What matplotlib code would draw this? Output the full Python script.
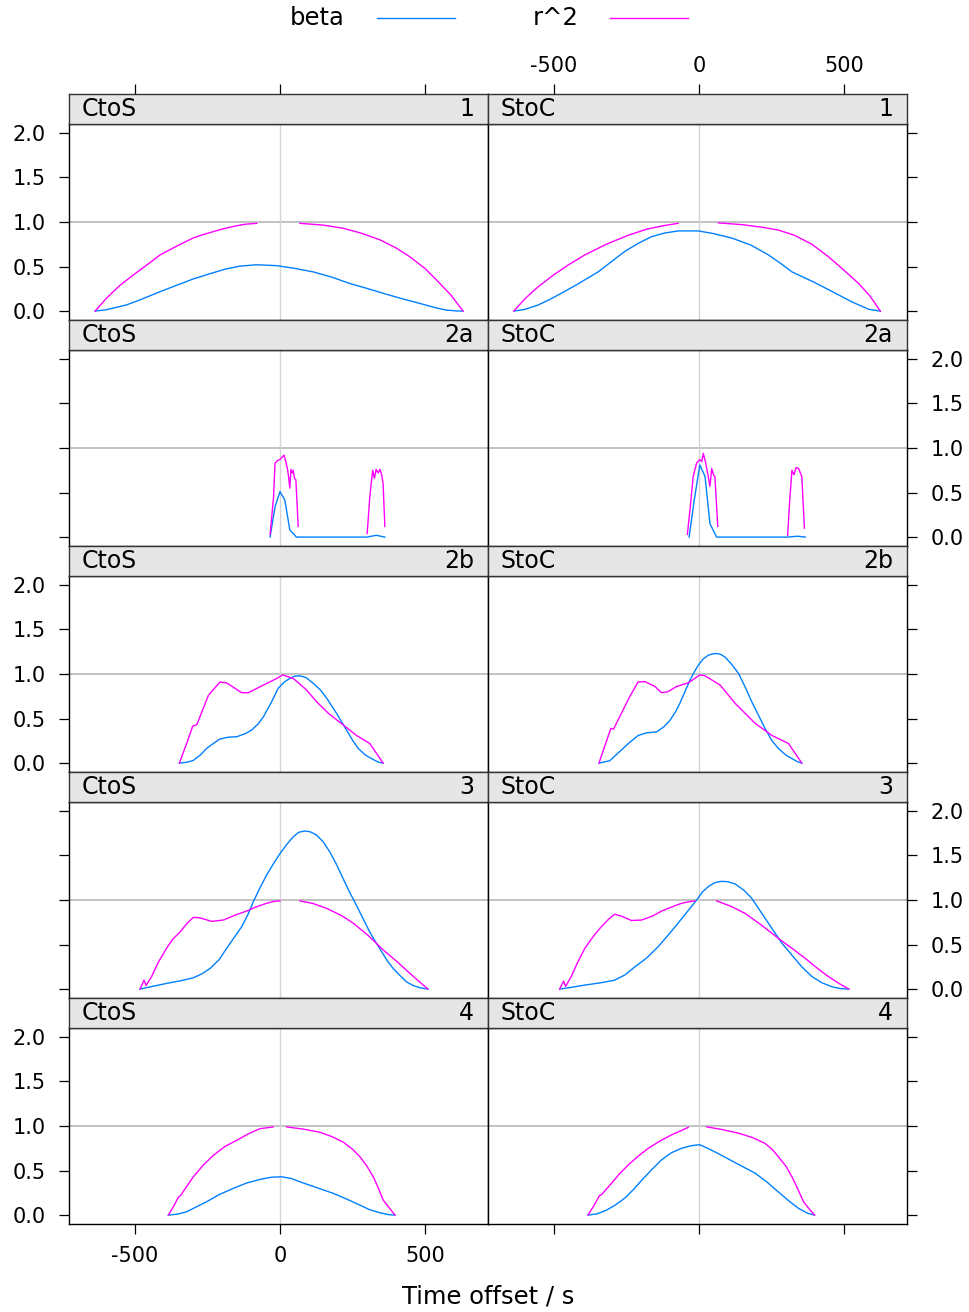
import numpy as np
import matplotlib
matplotlib.use("Agg")
import matplotlib.pyplot as plt
from matplotlib.lines import Line2D

nan = np.nan

# ---------------- data ----------------
directions = ["CtoS", "StoC"]
groups = ["1", "2a", "2b", "3", "4"]
series_names = ["beta", "r^2"]
series_colors = ["#0080ff", "#ff00ff"]
x_ticks = [-500, 0, 500]
y_ticks = [0.0, 0.5, 1.0, 1.5, 2.0]
y_tick_labels = ["0.0", "0.5", "1.0", "1.5", "2.0"]

# group 1
ctos_1_beta_x = [-638, -600, -560, -529, -480, -420, -356, -300, -241, -190, -138, -80, -11, 50, 115, 180, 241,
                 300, 356, 420, 483, 540, 575, 610, 632]
ctos_1_beta_y = [0, 0.015, 0.045, 0.07, 0.13, 0.21, 0.29, 0.36, 0.42, 0.47, 0.505, 0.52, 0.51, 0.48, 0.44, 0.38,
                 0.31, 0.255, 0.20, 0.14, 0.086, 0.035, 0.011, 0.002, 0]
ctos_1_r2_x = [-638, -600, -552, -500, -450, -414, -350, -300, -264, -200, -161, -120, -80,
               nan, 69, 150, 218, 280, 345, 400, 448, 500, 540, 590, 632]
ctos_1_r2_y = [0, 0.14, 0.29, 0.42, 0.54, 0.63, 0.74, 0.82, 0.86, 0.92, 0.95, 0.975, 0.985,
               nan, 0.985, 0.965, 0.93, 0.875, 0.80, 0.71, 0.61, 0.48, 0.35, 0.18, 0]
stoc_1_beta_x = [-639, -600, -556, -515, -475, -420, -348, -300, -256, -210, -164, -120, -72, -2, 50, 113, 180,
                 240, 280, 321, 400, 471, 530, 586, 626]
stoc_1_beta_y = [0, 0.02, 0.067, 0.13, 0.20, 0.30, 0.44, 0.56, 0.67, 0.76, 0.835, 0.875, 0.90, 0.90, 0.87, 0.82,
                 0.74, 0.63, 0.54, 0.44, 0.32, 0.20, 0.10, 0.02, 0]
stoc_1_r2_x = [-639, -600, -556, -500, -450, -394, -320, -245, -180, -120, -72,
               nan, 67, 150, 220, 274, 330, 390, 447, 500, 551, 590, 626]
stoc_1_r2_y = [0, 0.14, 0.27, 0.41, 0.52, 0.63, 0.75, 0.85, 0.92, 0.96, 0.985,
               nan, 0.99, 0.97, 0.94, 0.91, 0.85, 0.75, 0.61, 0.46, 0.31, 0.17, 0]

# group 2a
ctos_2a_beta_x = [-34, -17, 0, 17, 34, 57, 299, 333, 362]
ctos_2a_beta_y = [0, 0.34, 0.51, 0.415, 0.08, 0, 0, 0.02, 0]
ctos_2a_r2_x = [-34, -22, -17, -8, 0, 8, 14, 20, 25, 29, 34, 38, 42, 46, 50, 55, 63,
                nan, 301, 310, 320, 326, 332, 339, 345, 351, 356, 362]
ctos_2a_r2_y = [0.03, 0.45, 0.83, 0.86, 0.87, 0.90, 0.92, 0.85, 0.78, 0.70, 0.55, 0.76, 0.72, 0.75, 0.66, 0.64, 0.12,
                nan, 0.04, 0.45, 0.75, 0.66, 0.76, 0.72, 0.76, 0.70, 0.60, 0.12]
stoc_2a_beta_x = [-34, -17, 3, 21, 38, 61, 306, 340, 367]
stoc_2a_beta_y = [0, 0.40, 0.81, 0.68, 0.15, 0, 0, 0.01, 0]
stoc_2a_r2_x = [-40, -28, -20, -8, 3, 10, 15, 22, 28, 32, 38, 44, 50, 55, 65,
                nan, 306, 314, 321, 328, 335, 344, 350, 355, 364]
stoc_2a_r2_y = [0.03, 0.40, 0.68, 0.83, 0.87, 0.85, 0.94, 0.85, 0.75, 0.68, 0.57, 0.77, 0.70, 0.68, 0.12,
                nan, 0.02, 0.45, 0.75, 0.70, 0.78, 0.77, 0.72, 0.68, 0.10]

# group 2b
ctos_2b_beta_x = [-347, -320, -299, -275, -253, -230, -207, -180, -149, -120, -98, -75, -57, -30, -6, 15, 34, 50,
                  69, 90, 115, 140, 161, 195, 230, 250, 270, 295, 322, 340, 356]
ctos_2b_beta_y = [0, 0.01, 0.03, 0.09, 0.165, 0.22, 0.27, 0.29, 0.296, 0.33, 0.37, 0.44, 0.52, 0.68, 0.84, 0.91,
                  0.95, 0.975, 0.98, 0.96, 0.895, 0.82, 0.73, 0.56, 0.37, 0.26, 0.165, 0.09, 0.04, 0.01, 0]
ctos_2b_r2_x = [-347, -322, -301, -287, -247, -207, -184, -132, -109, -57, -11, 9, 46, 92, 126, 170, 218, 264,
                310, 356]
ctos_2b_r2_y = [0, 0.22, 0.415, 0.43, 0.76, 0.91, 0.90, 0.79, 0.79, 0.876, 0.95, 0.99, 0.95, 0.82, 0.69, 0.55,
                0.43, 0.31, 0.22, 0]
stoc_2b_beta_x = [-345, -308, -290, -268, -240, -210, -180, -146, -120, -100, -80, -66, -50, -31, -15, -2, 15, 32,
                  45, 61, 75, 90, 110, 136, 160, 182, 205, 228, 250, 274, 300, 321, 340, 355]
stoc_2b_beta_y = [0, 0.026, 0.08, 0.146, 0.23, 0.31, 0.34, 0.35, 0.41, 0.48, 0.58, 0.67, 0.79, 0.93, 1.03, 1.10,
                  1.17, 1.21, 1.225, 1.23, 1.22, 1.19, 1.12, 1.01, 0.85, 0.69, 0.54, 0.39, 0.26, 0.165, 0.09,
                  0.05, 0.015, 0]
stoc_2b_r2_x = [-345, -304, -295, -239, -210, -187, -152, -129, -108, -77, -37, 3, 21, 73, 125, 194, 252, 309, 355]
stoc_2b_r2_y = [0, 0.39, 0.38, 0.745, 0.91, 0.915, 0.86, 0.79, 0.80, 0.86, 0.90, 0.99, 0.98, 0.876, 0.67, 0.446,
                0.31, 0.22, 0]

# group 3
ctos_3_beta_x = [-483, -440, -391, -340, -299, -270, -241, -210, -184, -160, -132, -110, -92, -70, -46, -20, 0,
                 25, 46, 65, 86, 105, 126, 150, 172, 195, 218, 240, 264, 287, 310, 330, 351, 370, 391, 415, 437,
                 460, 483, 511]
ctos_3_beta_y = [0, 0.03, 0.064, 0.095, 0.127, 0.17, 0.232, 0.33, 0.457, 0.57, 0.70, 0.84, 0.98, 1.13, 1.28,
                 1.42, 1.52, 1.63, 1.71, 1.76, 1.775, 1.765, 1.73, 1.65, 1.54, 1.40, 1.24, 1.09, 0.94, 0.79,
                 0.64, 0.53, 0.42, 0.32, 0.23, 0.15, 0.08, 0.04, 0.015, 0]
ctos_3_r2_x = [-483, -469, -462, -443, -420, -391, -370, -345, -320, -299, -276, -236, -195, -155, -115, -80, -46,
               -20, 0, nan, 69, 115, 161, 210, 253, 305, 356, 400, 437, 475, 511]
ctos_3_r2_y = [0, 0.10, 0.04, 0.14, 0.30, 0.46, 0.56, 0.64, 0.74, 0.805, 0.80, 0.76, 0.775, 0.83, 0.876, 0.925,
               0.963, 0.985, 0.99, nan, 0.99, 0.96, 0.906, 0.83, 0.74, 0.60, 0.44, 0.32, 0.21, 0.10, 0]
stoc_3_beta_x = [-481, -440, -394, -340, -291, -255, -221, -180, -141, -105, -72, -40, -8, 12, 32, 55, 78, 100,
                 125, 155, 182, 215, 252, 285, 321, 355, 390, 425, 459, 490, 517]
stoc_3_beta_y = [0, 0.02, 0.045, 0.07, 0.10, 0.16, 0.25, 0.35, 0.475, 0.61, 0.74, 0.87, 1.0, 1.09, 1.15, 1.195,
                 1.21, 1.205, 1.18, 1.11, 1.02, 0.86, 0.68, 0.52, 0.38, 0.25, 0.14, 0.07, 0.026, 0.005, 0]
stoc_3_r2_x = [-481, -467, -460, -441, -420, -394, -365, -337, -310, -291, -268, -233, -198, -160, -129, -95, -60,
               -35, -14, nan, 61, 110, 159, 215, 274, 320, 367, 410, 447, 485, 517]
stoc_3_r2_y = [0, 0.09, 0.03, 0.14, 0.29, 0.457, 0.59, 0.70, 0.79, 0.84, 0.82, 0.77, 0.775, 0.82, 0.876, 0.92,
               0.963, 0.98, 0.99, nan, 0.99, 0.93, 0.85, 0.72, 0.57, 0.46, 0.345, 0.23, 0.14, 0.06, 0]

# group 4
ctos_4_beta_x = [-385, -355, -322, -290, -253, -210, -161, -115, -69, -30, 6, 40, 69, 125, 184, 230, 276, 310,
                 345, 375, 397]
ctos_4_beta_y = [0, 0.01, 0.037, 0.09, 0.15, 0.23, 0.30, 0.36, 0.40, 0.425, 0.43, 0.41, 0.374, 0.31, 0.244,
                 0.18, 0.112, 0.06, 0.026, 0.005, 0]
ctos_4_r2_x = [-385, -365, -351, -343, -320, -299, -265, -230, -190, -149, -110, -69, -23,
               nan, 23, 80, 138, 180, 218, 250, 276, 300, 322, 340, 356, 375, 397]
ctos_4_r2_y = [0, 0.11, 0.20, 0.22, 0.33, 0.43, 0.56, 0.67, 0.77, 0.84, 0.91, 0.97, 0.99,
               nan, 0.99, 0.965, 0.93, 0.88, 0.82, 0.74, 0.655, 0.55, 0.43, 0.30, 0.17, 0.09, 0]
stoc_4_beta_x = [-383, -350, -319, -290, -256, -225, -198, -160, -129, -95, -60, -25, 3, 30, 67, 130, 194, 235,
                 274, 310, 344, 375, 399]
stoc_4_beta_y = [0, 0.015, 0.056, 0.11, 0.19, 0.29, 0.39, 0.52, 0.62, 0.70, 0.75, 0.78, 0.79, 0.75, 0.69, 0.58,
                 0.47, 0.37, 0.26, 0.16, 0.075, 0.02, 0]
stoc_4_r2_x = [-383, -360, -343, -336, -320, -302, -275, -245, -210, -175, -135, -95, -60, -37,
               nan, 27, 80, 136, 185, 228, 255, 274, 300, 321, 340, 361, 380, 399]
stoc_4_r2_y = [0, 0.12, 0.22, 0.23, 0.29, 0.356, 0.46, 0.56, 0.66, 0.75, 0.83, 0.90, 0.95, 0.985,
               nan, 0.99, 0.96, 0.92, 0.87, 0.805, 0.73, 0.655, 0.55, 0.43, 0.30, 0.15, 0.07, 0]

panels = {
    ("CtoS", "1"): [(ctos_1_beta_x, ctos_1_beta_y), (ctos_1_r2_x, ctos_1_r2_y)],
    ("StoC", "1"): [(stoc_1_beta_x, stoc_1_beta_y), (stoc_1_r2_x, stoc_1_r2_y)],
    ("CtoS", "2a"): [(ctos_2a_beta_x, ctos_2a_beta_y), (ctos_2a_r2_x, ctos_2a_r2_y)],
    ("StoC", "2a"): [(stoc_2a_beta_x, stoc_2a_beta_y), (stoc_2a_r2_x, stoc_2a_r2_y)],
    ("CtoS", "2b"): [(ctos_2b_beta_x, ctos_2b_beta_y), (ctos_2b_r2_x, ctos_2b_r2_y)],
    ("StoC", "2b"): [(stoc_2b_beta_x, stoc_2b_beta_y), (stoc_2b_r2_x, stoc_2b_r2_y)],
    ("CtoS", "3"): [(ctos_3_beta_x, ctos_3_beta_y), (ctos_3_r2_x, ctos_3_r2_y)],
    ("StoC", "3"): [(stoc_3_beta_x, stoc_3_beta_y), (stoc_3_r2_x, stoc_3_r2_y)],
    ("CtoS", "4"): [(ctos_4_beta_x, ctos_4_beta_y), (ctos_4_r2_x, ctos_4_r2_y)],
    ("StoC", "4"): [(stoc_4_beta_x, stoc_4_beta_y), (stoc_4_r2_x, stoc_4_r2_y)],
}

# ---------------- layout ----------------
plt.rcParams["font.family"] = ["DejaVu Sans"]
W, H = 969, 1312
fig = plt.figure(figsize=(W / 100, H / 100), dpi=100)
fig.patch.set_facecolor("white")


def fx(px):
    return px / W


def fy(py):
    return 1 - py / H


XLIM = (-728, 718)
YLIM = (-0.1, 2.1)
col_left = [69, 488]
col_w = 419
strip_h = 30
panel_h = 196
row_step = 226
top0 = 94

tick_kw = dict(direction="out", length=7, width=0.9, labelsize=15, colors="black")

for r, grp in enumerate(groups):
    for c, d in enumerate(directions):
        st_top = top0 + row_step * r
        pn_bottom = st_top + strip_h + panel_h
        ax = fig.add_axes([fx(col_left[c]), fy(pn_bottom), col_w / W, panel_h / H])
        sax = fig.add_axes([fx(col_left[c]), fy(st_top + strip_h), col_w / W, strip_h / H])

        ax.set_xlim(*XLIM)
        ax.set_ylim(*YLIM)
        ax.axhline(1.0, color="#bdbdbd", lw=1.3, zorder=1)
        ax.axvline(0.0, color="#d4d4d4", lw=1.0, zorder=1)
        for (xs, ys), col in zip(panels[(d, grp)], series_colors):
            ax.plot(xs, ys, color=col, lw=1.0, zorder=3)

        for sp in ax.spines.values():
            sp.set_linewidth(1.0)
            sp.set_color("black")

        # y axis
        ax.set_yticks(y_ticks)
        ax.set_yticklabels(y_tick_labels)
        show_lab = (c == 0 and r % 2 == 0) or (c == 1 and r % 2 == 1)
        if c == 0:
            ax.tick_params(axis="y", left=True, right=False, labelleft=show_lab,
                           labelright=False, pad=10, **tick_kw)
        else:
            ax.tick_params(axis="y", left=False, right=True, labelleft=False,
                           labelright=show_lab, pad=10, **tick_kw)

        # x axis
        ax.set_xticks(x_ticks)
        if r == len(groups) - 1:
            ax.tick_params(axis="x", bottom=True, top=False, labelbottom=(c == 0),
                           labeltop=False, pad=9, **tick_kw)
            ax.set_xticklabels([str(v) for v in x_ticks])
        else:
            ax.tick_params(axis="x", bottom=False, top=False, labelbottom=False, labeltop=False)

        # strip
        sax.set_facecolor("#e6e6e6")
        sax.set_xlim(*XLIM)
        sax.set_ylim(0, 1)
        sax.set_yticks([])
        for sp in sax.spines.values():
            sp.set_linewidth(1.0)
            sp.set_color("#333333")
        if r == 0:
            sax.set_xticks(x_ticks)
            sax.set_xticklabels([str(v) for v in x_ticks])
            sax.tick_params(axis="x", top=True, bottom=False, labeltop=(c == 1),
                            labelbottom=False, pad=6, **tick_kw)
        else:
            sax.set_xticks([])
        sax.text(13 / col_w, 0.5, d, transform=sax.transAxes, ha="left", va="center",
                 fontsize=17, color="black")
        sax.text(1 - 14 / col_w, 0.5, grp, transform=sax.transAxes, ha="right", va="center",
                 fontsize=17, color="black")

# legend
leg_text_x = [290, 533]
leg_line_x = [(377, 455), (610, 688)]
for name, col, tx, (l0, l1) in zip(series_names, series_colors, leg_text_x, leg_line_x):
    fig.text(fx(tx), fy(18), name, ha="left", va="center", fontsize=17.5)
    fig.add_artist(Line2D([fx(l0), fx(l1)], [fy(18), fy(18)], color=col, lw=1.0,
                          transform=fig.transFigure))

fig.text(fx(488), fy(1297), "Time offset / s", ha="center", va="center", fontsize=17.5)

fig.savefig("out.png", dpi=100, facecolor="white")
